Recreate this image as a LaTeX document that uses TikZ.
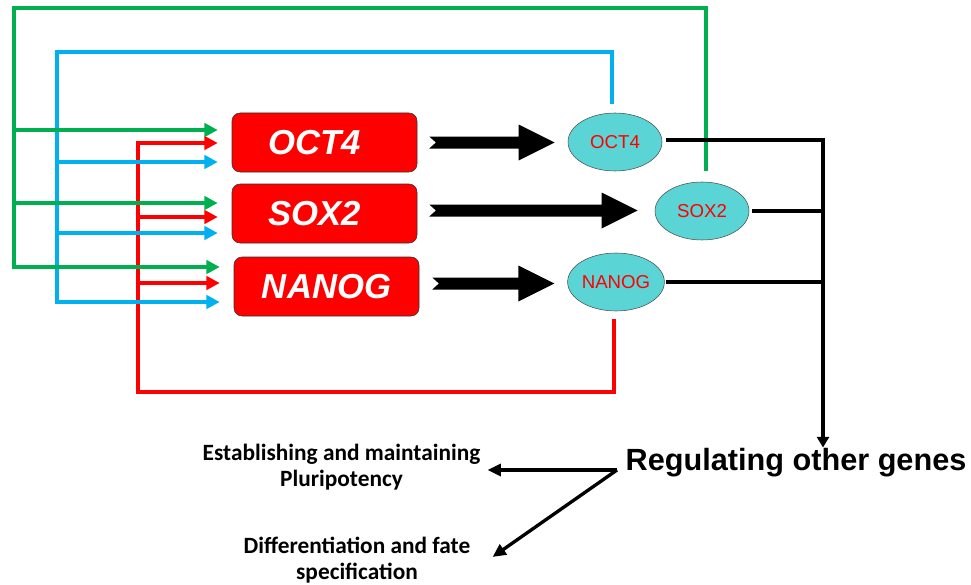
\documentclass[tikz,border=0pt]{standalone}
\usepackage{fontspec}
\setmainfont{Liberation Sans}
\newfontfamily\calfont{Carlito}
\usetikzlibrary{arrows.meta,shapes.geometric,calc}
\definecolor{grnline}{RGB}{0,176,80}
\definecolor{bluline}{RGB}{0,176,240}
\definecolor{ellfill}{RGB}{90,212,212}
\begin{document}
\begin{tikzpicture}[x=0.75pt,y=-0.75pt,
  genebox/.style={draw=black!80,fill=red,rounded corners=6pt,minimum width=138.75pt,minimum height=44.25pt,inner sep=0pt,text=white,font=\fontsize{26}{30}\selectfont\bfseries\itshape},
  protein/.style={ellipse,draw=black!70,fill=ellfill,minimum width=70.5pt,minimum height=43.5pt,inner sep=0pt,text=red,font=\fontsize{14}{16}\selectfont},
  feedback/.style={line width=3pt,-{Triangle[length=10pt,width=10pt]},shorten >=10.5pt},
  fat/.style={to path={let \p1=(\tikztostart),\p2=(\tikztotarget) in
    (\x1,\y1+4.5pt) -- (\x2-27pt,\y1+4.5pt) -- (\x2-27pt,\y1+13.5pt) -- (\x2,\y1)
    -- (\x2-27pt,\y1-13.5pt) -- (\x2-27pt,\y1-4.5pt) -- (\x1,\y1-4.5pt) -- (\x1+5pt,\y1) -- cycle}},
  link/.style={line width=2.5pt,line cap=rect},
  result/.style={line width=2.5pt,-{Triangle[length=10pt,width=9pt]}},
  fatetext/.style={align=center,inner sep=0pt,font=\calfont\bfseries\fontsize{17.5}{19.5}\selectfont}]
\useasboundingbox (0,0) rectangle (971,585);
\node[genebox] (o4box) at (324.5,142.5) {\hspace*{-15pt}OCT4};
\node[genebox] (s2box) at (324.5,213.5) {\hspace*{-15pt}SOX2};
\node[genebox] (nbox) at (326.5,286.5) {NANOG};
\node[protein] (o4) at (615,142) {OCT4};
\node[protein] (s2) at (702,211) {SOX2};
\node[protein] (na) at (616,282) {NANOG};
\node[anchor=base,inner sep=0pt,font=\bfseries\fontsize{23}{27}\selectfont] (reg) at (796,470) {Regulating other genes};
\node[fatetext] (est) at (341.5,467) {Establishing and maintaining\\Pluripotency};
\node[fatetext] (dif) at (357,560) {Differentiation and fate\\specification};
% feedback loops
\draw[feedback,red] ($(na.south)+(-2,8)$) |- (138,392) |- (o4box.west |- 0,143);
\foreach \b/\y in {s2box/217,nbox/283}
  \draw[feedback,red] (138,\y) -- (\b.west |- 0,\y);
\draw[feedback,bluline] ($(o4.north)+(-3,-9)$) |- (57,52) |- (nbox.west |- 0,302);
\foreach \b/\y in {o4box/162,s2box/233}
  \draw[feedback,bluline] (57,\y) -- (\b.west |- 0,\y);
\draw[feedback,grnline] ($(s2.north)+(4,-11)$) |- (14,8) |- (nbox.west |- 0,267);
\foreach \b/\y in {o4box/130,s2box/203}
  \draw[feedback,grnline] (14,\y) -- (\b.west |- 0,\y);
% expression
\fill ($(o4box.east)+(12,0)$) to[fat] ($(o4.west)+(-13,0)$);
\fill ($(s2box.east)+(12,-3)$) to[fat] ($(s2.west)+(-17,-3)$);
\fill ($(nbox.east)+(13,-3)$) to[fat] ($(na.west)+(-13,-3)$);
% targets
\coordinate (bus) at (823,140);
\draw[link] ($(o4.east)+(5,-2)$) -- (bus);
\draw[link] ($(s2.east)+(4,0)$) -- (s2.east -| bus);
\draw[link] ($(na.east)+(3,0)$) -- (na.east -| bus);
\draw[link,line cap=butt,-{Triangle[length=8pt,width=9pt]}] ($(bus)+(0,-1.5)$) -- (bus |- reg.north);
\coordinate (fork) at (617,470);
\draw[result] (fork) -- ($(est.east |- fork)+(7,0)$);
\draw[result] (fork) -- ($(dif.east)+(22,-3)$);
\end{tikzpicture}
\end{document}
